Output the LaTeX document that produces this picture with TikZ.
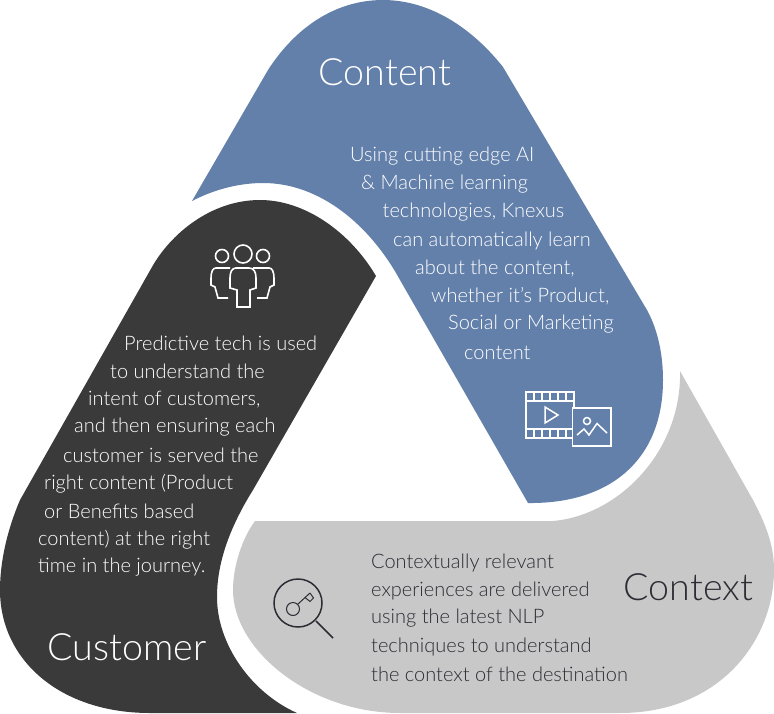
\documentclass[tikz,border=0pt]{standalone}
\usepackage{fontspec}
\setmainfont[UprightFont={* Light}]{Lato}
\definecolor{bluec}{HTML}{6380AB}
\definecolor{darkc}{HTML}{3A3A3A}
\definecolor{greyc}{HTML}{C8C8C8}
\definecolor{inkc}{HTML}{2C2C34}
\tikzset{
  body/.style={font=\fontsize{20}{20}\selectfont,anchor=west,inner sep=0pt,text=white},
  bodyd/.style={font=\fontsize{20}{20}\selectfont,anchor=west,inner sep=0pt,text=inkc},
  head/.style={font=\fontsize{37.6}{37.6}\selectfont,inner sep=0pt},
  icon/.style={line width=1.6pt,line join=miter},
}
\begin{document}
\begin{tikzpicture}[x=1pt,y=-1pt]
\useasboundingbox (0,0) rectangle (774,713);
\fill[bluec] (192,201) -- (268,70) .. controls (295,28) and (335,0) .. (383,0) .. controls (430,0) and (472,28) .. (503,67) -- (647,310) .. controls (658,330) and (663,355) .. (663,380) .. controls (663,460) and (610,504) .. (528,503) -- (400,280) .. controls (370,225) and (320,183) .. (263,183) .. controls (240,183) and (215,189) .. (192,201) -- cycle;
\fill[darkc] (376,276) -- (253,490) .. controls (228,530) and (217,565) .. (217,597) .. controls (217,645) and (252,693) .. (297,713) -- (150,713) .. controls (60,713) and (0,660) .. (0,590) .. controls (0,560) and (8,528) .. (20,500) -- (152,267) .. controls (170,235) and (210,200) .. (260,200) .. controls (305,200) and (350,232) .. (376,276) -- cycle;
\fill[greyc] (680,371) -- (753,500) .. controls (766,525) and (774,545) .. (774,570) .. controls (774,640) and (720,713) .. (620,713) -- (400,713) .. controls (310,713) and (233,650) .. (233,590) .. controls (233,565) and (243,537) .. (255,521) -- (553,521) .. controls (620,515) and (682,450) .. (680,371) -- cycle;
\node[head,text=white] (t1) at (385,72) {Content};
\node[head,text=white] (t2) at (127,647) {Customer};
\node[head,text=inkc] (t3) at (688.5,587) {Context};
\foreach \i/\x/\y/\s in {a/350/156.5/{Using cutting edge AI},b/361/184.5/{\& Machine learning},c/382.5/212.5/{technologies, Knexus},d/393/240.5/{can automatically learn},e/415/268.5/{about the content,},f/431/296.5/{whether it’s Product,},g/448/324.5/{Social or Marketing},h/464/352.5/{content}}
  \node[body] (c\i) at (\x,\y) {\s};
\foreach \i/\x/\y/\s in {a/124/343.5/{Predictive tech is used},b/110/371.5/{to understand the},c/88/399.5/{intent of customers,},d/74/427.5/{and then ensuring each},e/63/455.5/{customer is served the},f/44/483.5/{right content (Product},g/44/511.5/{or Benefits based},h/38/539.5/{content) at the right},i/38/567.5/{time in the journey.}}
  \node[body] (d\i) at (\x,\y) {\s};
\foreach \i/\x/\y/\s in {a/371/562.5/{Contextually relevant},b/371/590.5/{experiences are delivered},c/371/618.5/{using the latest NLP},d/371/646.5/{techniques to understand},e/371/674.5/{the context of the destination}}
  \node[bodyd] (g\i) at (\x,\y) {\s};
% people icon
\begin{scope}[icon,draw=white]
\draw (222,256) circle (6.5);
\draw (243,254) circle (9);
\draw (263,256) circle (6.5);
\draw (230,268) -- (216,268) .. controls (213,268) and (211,271) .. (211,279) -- (211,285) -- (215,287) -- (218,298) -- (228,298);
\draw (253,268) -- (269,268) .. controls (272,268) and (274,271) .. (274,279) -- (274,285) -- (270,287) -- (267,298) -- (257,298);
\draw (236,268) -- (249,268) .. controls (254,268) and (256,272) .. (256,278) -- (256,288) -- (250,290) -- (250,307) -- (237,307) -- (237,290) -- (230,288) -- (230,278) .. controls (230,272) and (232,268) .. (236,268) -- cycle;
\end{scope}
% film
\begin{scope}[icon,draw=white,line width=1.5pt]
\draw (526,392) rectangle (574,438);
\draw (526,401) -- (574,401);
\draw (526,429) -- (574,429);
\foreach \x in {534,542,550,558,566} { \draw (\x,392) -- (\x,401); \draw (\x,429) -- (\x,438); }
\draw (545,407) -- (558,415) -- (545,423) -- cycle;
\draw[fill=bluec] (572.5,408) rectangle (611,446);
\draw (587,421) circle (3.5);
\draw (577,435) -- (584,429) -- (589,435) -- (597,423.5) -- (607,433);
\end{scope}
% key
\begin{scope}[line width=1.5pt,draw=inkc]
\draw (298,603) circle (24);
\draw (316,621) -- (333,638);
\draw[line width=1pt] (293,609) circle (6.5);
\draw[line width=1pt] (298,604) -- (310,593);
\draw[line width=1pt] (305,597.5) -- (310,601.5) -- (313.5,598) -- (310,593);
\end{scope}
\end{tikzpicture}
\end{document}
